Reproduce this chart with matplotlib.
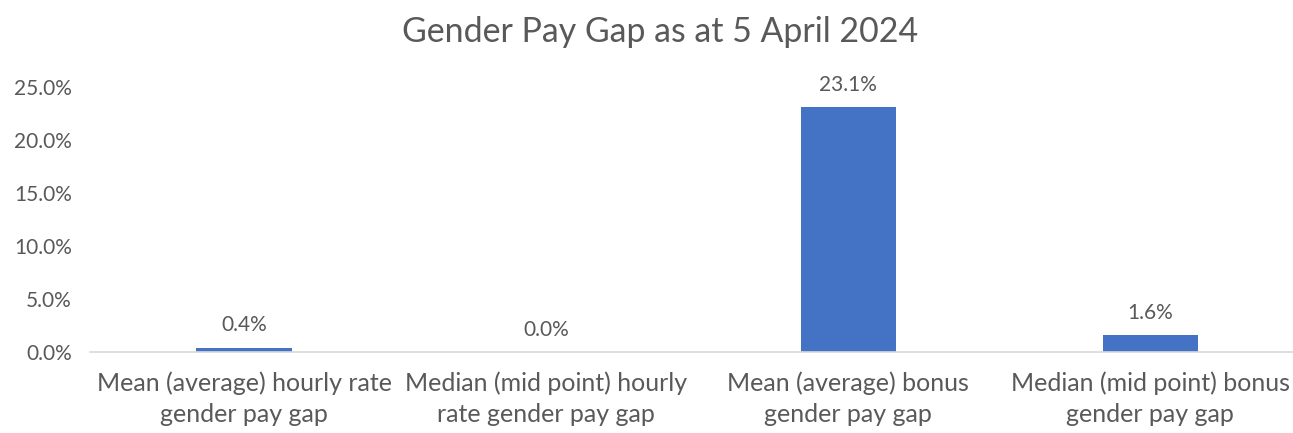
import matplotlib
matplotlib.use("Agg")
import matplotlib.pyplot as plt
from matplotlib.ticker import FuncFormatter, MultipleLocator

categories = ["Mean (average) hourly rate\ngender pay gap",
              "Median (mid point) hourly\nrate gender pay gap",
              "Mean (average) bonus\ngender pay gap",
              "Median (mid point) bonus\ngender pay gap"]
values = [0.4, 0.0, 23.1, 1.6]
title = "Gender Pay Gap as at 5 April 2024"

plt.rcParams['font.family'] = ['Lato', 'DejaVu Sans']
fig = plt.figure(figsize=(12.93, 4.33), dpi=100)
ax = fig.add_axes([90/1293, 1-352/433, (1293-90)/1293, (352-87)/433])

color = "#4472C4"
txtc = "#595959"
x = range(len(categories))
ax.bar(x, values, width=0.315, color=color)
for xi, v in zip(x, values):
    ax.annotate(f"{v:.1f}%", (xi, v), xytext=(0, 9), textcoords="offset points",
                ha="center", va="bottom", fontsize=15, color=txtc)

ax.set_xlim(-0.51, 3.473)
ax.set_ylim(0, 25)
ax.yaxis.set_major_locator(MultipleLocator(5))
ax.yaxis.set_major_formatter(FuncFormatter(lambda v, p: f"{v:.1f}%"))
ax.set_xticks(list(x))
ax.set_xticklabels(categories, fontsize=18, color=txtc, linespacing=1.4)
ax.tick_params(axis='y', labelsize=15, labelcolor=txtc, length=0, pad=13)
ax.tick_params(axis='x', length=0, pad=14)
for s in ["top", "right", "left"]:
    ax.spines[s].set_visible(False)
ax.spines["bottom"].set_color("#D9D9D9")
ax.spines["bottom"].set_linewidth(1.2)

fig.text(660/1293, 1-32/433, title, ha="center", va="center", fontsize=24.4, color=txtc)
fig.savefig("out.png", dpi=100)
